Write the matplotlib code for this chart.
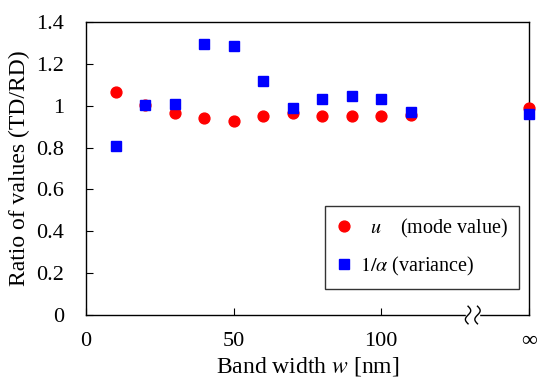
import numpy as np
import matplotlib
matplotlib.use("Agg")
import matplotlib.pyplot as plt

plt.rcParams["font.family"] = ["Liberation Serif", "DejaVu Serif"]
plt.rcParams["mathtext.fontset"] = "stix"

# ---------------- data ----------------
# finite band widths [nm]; the last point of each series is w = infinity
band_width = [10, 20, 30, 40, 50, 60, 70, 80, 90, 100, 110]
inf_pos = 150  # where "infinity" sits on the broken axis
mode_ratio = [1.065, 1.003, 0.967, 0.943, 0.927, 0.952, 0.964, 0.952, 0.952, 0.952, 0.956]
mode_ratio_inf = 0.989
var_ratio = [0.807, 1.003, 1.007, 1.295, 1.285, 1.118, 0.987, 1.034, 1.045, 1.034, 0.972]
var_ratio_inf = 0.960

xticks = [0, 50, 100, inf_pos]
xtick_labels = ["0", "50", "100", "\u221e"]
yticks = [0, 0.2, 0.4, 0.6, 0.8, 1.0, 1.2, 1.4]
ytick_labels = ["0", "0.2", "0.4", "0.6", "0.8", "1", "1.2", "1.4"]

# ---------------- plot ----------------
fig = plt.figure(figsize=(5.38, 3.83), dpi=100)
ax = fig.add_axes([0.160, 0.1775, 0.823, 0.765])

ax.plot(band_width + [inf_pos], mode_ratio + [mode_ratio_inf], "o",
        color="#ff0000", markersize=7.8, clip_on=False, zorder=3,
        label=r"  $u$    (mode value)")
ax.plot(band_width + [inf_pos], var_ratio + [var_ratio_inf], "s",
        color="#0000ff", markersize=7.8, clip_on=False, zorder=4,
        label=r"$1/\alpha$ (variance)")

ax.set_xlim(0, inf_pos)
ax.set_ylim(0, 1.4)
ax.set_xticks(xticks)
ax.set_xticklabels(xtick_labels)
ax.set_yticks(yticks)
ax.set_yticklabels(ytick_labels)
ax.tick_params(direction="in", length=5, labelsize=16, pad=16)
ax.tick_params(axis="x", pad=12)

for sp in ax.spines.values():
    sp.set_linewidth(1.0)

ax.set_xlabel(r"Band width $w$ [nm]", fontsize=17, labelpad=3)
ax.set_ylabel("Ratio of values (TD/RD)", fontsize=17, labelpad=4)

# axis break mark on the bottom spine
trans = ax.get_xaxis_transform()
bx = 131
ax.fill_between([bx - 2.2, bx + 2.2], -0.01, 0.01, color="white",
                transform=trans, clip_on=False, zorder=5)
t = np.linspace(-1, 1, 50)
for dx in (-1.6, 1.6):
    ax.plot(bx + dx + 0.9 * np.sin(t * np.pi), t * 0.03, color="black",
            lw=1.0, transform=trans, clip_on=False, zorder=6)

leg = ax.legend(loc="lower right", bbox_to_anchor=(0.977, 0.089),
                borderaxespad=0, fontsize=14.5, frameon=True, fancybox=False,
                edgecolor="black", handletextpad=0.35, borderpad=0.55,
                labelspacing=0.75, handlelength=0.8)
leg.get_frame().set_linewidth(1.0)

fig.savefig("out.png", dpi=100)
